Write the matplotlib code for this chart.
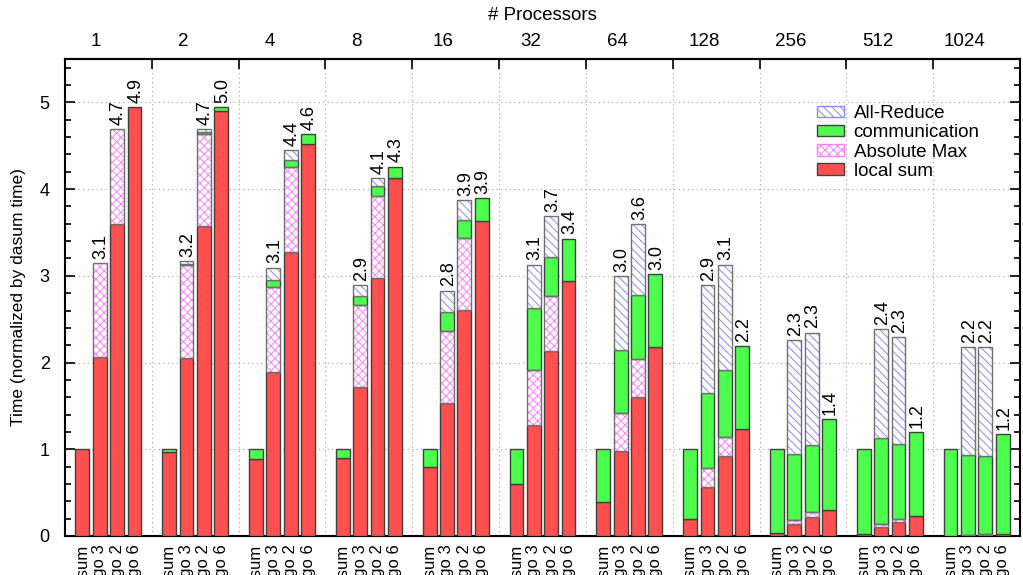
import numpy as np
import matplotlib
matplotlib.use("Agg")
from matplotlib import pyplot as plt
from matplotlib.patches import Patch

plt.rcParams['font.family'] = ['Liberation Sans', 'DejaVu Sans']
plt.rcParams['hatch.linewidth'] = 0.7

procs = ['1', '2', '4', '8', '16', '32', '64', '128', '256', '512', '1024']
algos = ['dasum', 'algo 3', 'algo 2', 'algo 6']

# segment heights, one row per processor count, columns follow algos
local_sum = [
    [1.000, 2.060, 3.600, 4.945],
    [0.973, 2.050, 3.575, 4.905],
    [0.888, 1.895, 3.280, 4.515],
    [0.896, 1.720, 2.976, 4.125],
    [0.796, 1.534, 2.610, 3.630],
    [0.600, 1.280, 2.130, 2.940],
    [0.396, 0.977, 1.603, 2.180],
    [0.192, 0.560, 0.926, 1.234],
    [0.040, 0.135, 0.216, 0.300],
    [0.027, 0.107, 0.165, 0.227],
    [0.005, 0.010, 0.015, 0.020],
]
abs_max = [
    [0, 1.085, 1.090, 0],
    [0, 1.070, 1.065, 0],
    [0, 0.975, 0.970, 0],
    [0, 0.940, 0.950, 0],
    [0, 0.830, 0.830, 0],
    [0, 0.638, 0.638, 0],
    [0, 0.438, 0.435, 0],
    [0, 0.228, 0.220, 0],
    [0, 0.055, 0.057, 0],
    [0, 0.035, 0.035, 0],
    [0, 0.005, 0.005, 0],
]
communication = [
    [0.000, 0.000, 0.000, 0.000],
    [0.027, 0.020, 0.020, 0.040],
    [0.112, 0.080, 0.080, 0.115],
    [0.104, 0.110, 0.105, 0.135],
    [0.204, 0.223, 0.205, 0.265],
    [0.400, 0.708, 0.446, 0.490],
    [0.604, 0.735, 0.742, 0.840],
    [0.808, 0.857, 0.769, 0.956],
    [0.960, 0.756, 0.777, 1.050],
    [0.973, 0.988, 0.860, 0.973],
    [0.995, 0.923, 0.906, 1.156],
]
all_reduce = [
    [0, 0.000, 0.000, 0],
    [0, 0.030, 0.030, 0],
    [0, 0.145, 0.115, 0],
    [0, 0.120, 0.100, 0],
    [0, 0.243, 0.225, 0],
    [0, 0.504, 0.473, 0],
    [0, 0.850, 0.815, 0],
    [0, 1.245, 1.215, 0],
    [0, 1.311, 1.295, 0],
    [0, 1.257, 1.235, 0],
    [0, 1.242, 1.251, 0],
]
# printed totals over algo 3, algo 2, algo 6
bar_labels = [
    ['3.1', '4.7', '4.9'], ['3.2', '4.7', '5.0'], ['3.1', '4.4', '4.6'],
    ['2.9', '4.1', '4.3'], ['2.8', '3.9', '3.9'], ['3.1', '3.7', '3.4'],
    ['3.0', '3.6', '3.0'], ['2.9', '3.1', '2.2'], ['2.3', '2.3', '1.4'],
    ['2.4', '2.3', '1.2'], ['2.2', '2.2', '1.2'],
]

ng, na = len(procs), len(algos)
xpos = np.array([[5 * g + k + 1 for k in range(na)] for g in range(ng)], float)

fig = plt.figure(figsize=(10.23, 5.75), dpi=100)
ax = fig.add_axes([65 / 1023, 39 / 575, 955 / 1023, 477 / 575])

red = '#ff4f4f'
green = '#4dff4d'
edge = '#404040'
series = [
    (local_sum, dict(color=red), None),
    (abs_max, dict(color='white', hatch='xxxx'), '#ff80ff'),
    (communication, dict(color=green), None),
    (all_reduce, dict(color='white', hatch='\\\\\\\\'), '#8888ff'),
]

bottom = np.zeros((ng, na))
for vals, style, hcol in series:
    h = np.array(vals, float)
    m = h > 0
    if hcol is None:
        ax.bar(xpos[m], h[m], bottom=bottom[m], width=0.8, edgecolor=edge,
               linewidth=1.0, zorder=3, **style)
    else:
        ax.bar(xpos[m], h[m], bottom=bottom[m], width=0.8, edgecolor=hcol,
               linewidth=0, zorder=3, **style)
        ax.bar(xpos[m], h[m], bottom=bottom[m], width=0.8, fill=False,
               edgecolor='#707070', linewidth=1.0, zorder=4)
    bottom += h

for g in range(ng):
    for k in range(1, na):
        ax.annotate(bar_labels[g][k - 1], (xpos[g, k], bottom[g, k]),
                    xytext=(1, 3), textcoords='offset points', rotation=90,
                    ha='center', va='bottom', fontsize=13)

ax.set_xlim(0, 5 * ng)
ax.set_ylim(0, 5.5)
ax.set_yticks(range(6))
ax.set_yticks(np.arange(0, 5.5, 0.2), minor=True)
ax.tick_params(axis='y', which='both', direction='in', right=True,
               labelsize=13, width=1.2, pad=11)
ax.tick_params(axis='y', which='major', length=7)
ax.tick_params(axis='y', which='minor', length=4)
ax.set_xticks(xpos.ravel())
ax.set_xticklabels(algos * ng, rotation=90, fontsize=12)
ax.tick_params(axis='x', length=0, pad=6)
ax.set_ylabel('Time (normalized by dasum time)', fontsize=12.5, labelpad=10)

for sp in ax.spines.values():
    sp.set_linewidth(1.5)

ax.grid(axis='y', linestyle=(0, (1, 3)), color='#a0a0a0', linewidth=0.8, zorder=0)
for g in range(1, ng):
    ax.axvline(5 * g, linestyle=(0, (1, 3)), color='#a0a0a0', linewidth=0.8, zorder=0)

top = ax.secondary_xaxis('top')
top.set_xticks([5 * g + 1.8 for g in range(ng)])
top.set_xticklabels(procs, fontsize=13.5)
top.set_xticks([5 * g for g in range(1, ng)], minor=True)
top.tick_params(which='major', length=0, pad=6.5)
top.tick_params(which='minor', direction='in', length=7, width=1.2)
top.spines['top'].set_linewidth(1.5)
top.set_xlabel('# Processors', fontsize=13.5, labelpad=9)

handles = [
    Patch(facecolor='white', edgecolor='#8888ff', hatch='\\\\\\\\', label='All-Reduce'),
    Patch(facecolor=green, edgecolor=edge, label='communication'),
    Patch(facecolor='white', edgecolor='#ff80ff', hatch='xxxx', label='Absolute Max'),
    Patch(facecolor=red, edgecolor=edge, label='local sum'),
]
ax.legend(handles=handles, loc='upper left', bbox_to_anchor=(817 / 1023, 1 - 105 / 575),
          bbox_transform=fig.transFigure, frameon=False, fontsize=13.5,
          handlelength=1.45, handleheight=0.55, labelspacing=0.12, borderpad=0,
          borderaxespad=0, handletextpad=0.5)

fig.savefig('out.png', dpi=100)
